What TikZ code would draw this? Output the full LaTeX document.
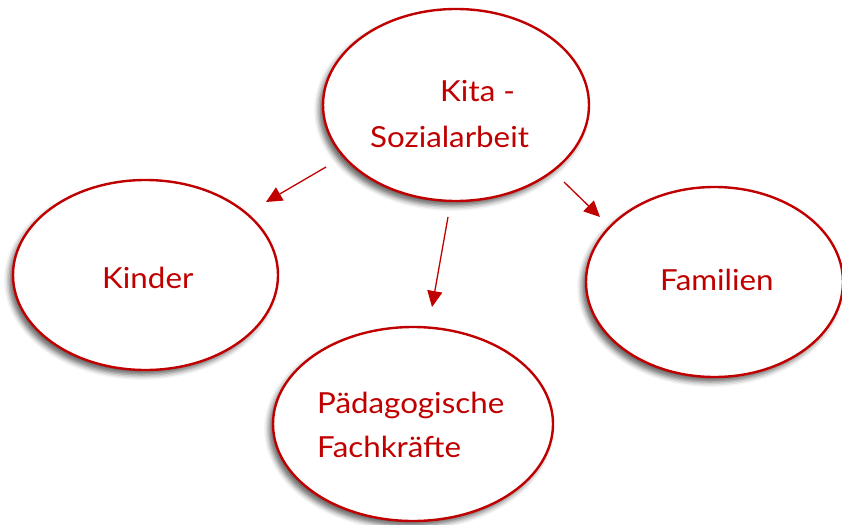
\documentclass[tikz,border=0pt]{standalone}
\usepackage{fontspec}
\setmainfont{Lato}
\usetikzlibrary{shapes.geometric,shadows.blur,arrows.meta}
\definecolor{dred}{RGB}{192,0,0}
\begin{document}
\begin{tikzpicture}[x=1pt,y=-1pt,
  bubble/.style={ellipse, draw=dred, line width=2.4pt, fill=white, inner sep=0pt,
    blur shadow={shadow xshift=-4pt, shadow yshift=-5pt, shadow blur radius=5pt, shadow opacity=60}},
  lbl/.style={text=dred, font=\fontsize{29}{34}\selectfont, inner sep=0pt, anchor=base west, xscale=1.08},
  arr/.style={draw=dred, line width=1.3pt, -{Triangle[length=16pt,width=15pt]}}]
\useasboundingbox (0,0) rectangle (842,524);
\node[bubble, minimum width=266pt, minimum height=192pt] (kita) at (456,105) {};
\node[bubble, minimum width=265pt, minimum height=190pt] (kinder) at (145.5,275) {};
\node[bubble, minimum width=257pt, minimum height=190pt] (familien) at (714.5,282) {};
\node[bubble, minimum width=280pt, minimum height=194pt] (paed) at (413,424) {};
\node[lbl] (t1) at (440,102) {Kita -};
\node[lbl] (t2) at (370,147) {Sozialarbeit};
\node[lbl] (t3) at (102,288) {Kinder};
\node[lbl] (t4) at (660,290) {Familien};
\node[lbl] (t5) at (317,413) {Pädagogische};
\node[lbl] (t6) at (317,457) {Fachkräfte};
\coordinate (a1s) at (326,167); \coordinate (a1e) at (266,202);
\coordinate (a2s) at (448,217); \coordinate (a2e) at (432,307);
\coordinate (a3s) at (564,182); \coordinate (a3e) at (600,217);
\draw[arr] (a1s) -- (a1e);
\draw[arr] (a2s) -- (a2e);
\draw[arr] (a3s) -- (a3e);
\end{tikzpicture}
\end{document}
